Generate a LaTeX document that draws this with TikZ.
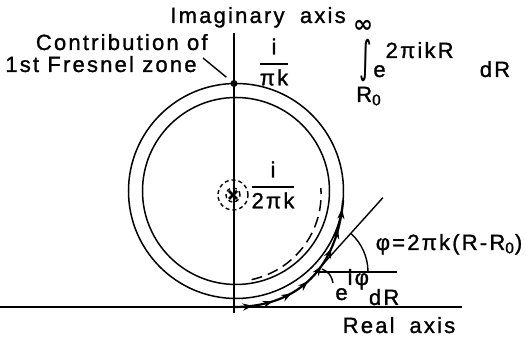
\documentclass[tikz,border=0pt]{standalone}
\usepackage{amsmath,graphicx}
\usepackage{fontspec}
\setmainfont{Liberation Sans}[LetterSpace=10,FakeBold=1.2]
\newfontfamily\djv{DejaVu Sans}
\usetikzlibrary{arrows.meta,decorations.markings}
\tikzset{>=Stealth,every node/.style={font=\fontsize{11}{13}\selectfont,inner sep=0pt},
  axisline/.style={line width=.7pt},loop/.style={line width=.75pt},
  phasor/.style={line width=1.1pt,decoration={markings,
      mark=between positions .11 and .97 step .12 with {\arrow{Stealth[length=5pt,width=3.6pt]}}},postaction={decorate}},
  dashcirc/.style={line width=.7pt,dash pattern=on 2pt off 1.5pt}}
\newcommand{\fracbar}[2]{$\genfrac{}{}{.8pt}{0}{\text{#1}}{\text{#2}}$}

\begin{document}
\begin{tikzpicture}[x=.5pt,y=.5pt]
\useasboundingbox (-234,-33) rectangle (292,307);
% axes
\draw[axisline] (-234,0)--(228,0);\draw[axisline] (0,274)--(0,-6);
\node[anchor=base] (realname) at (165,-26) {Real\hspace{.3em} axis};
\node[anchor=base west] (imagname) at (-64,284) {Imaginary\hspace{.7em}axis};
% two turns of the spiral, then its dashed end
\coordinate (S) at (2,116);
\draw[loop] (S) circle (107.5);\draw[loop] (S) circle (93.5);
\draw[loop,dash pattern=on 5.5pt off 3pt] plot[domain=-80:2,samples=30] ({2+(85-(\x)/16)*cos(\x)},{116+(85-(\x)/16)*sin(\x)});
% first Fresnel zone as a chain of phasors
\coordinate (O) at (0,0);\coordinate (M) at (109.1,106.6);
\draw[phasor] (O) .. controls (66,0) and (103.4,40.9) .. (M);
% limit point
\coordinate (C) at (-1,112);
\draw[dashcirc] (C) circle (15);\draw[dashcirc] (C) circle (7);
\draw[line width=1.4pt] ([shift={(-4,-4)}]C)--([shift={(4,4)}]C) ([shift={(-4,4)}]C)--([shift={(4,-4)}]C);
\node (midfrac) at (39,122) {\fracbar{i}{2πk}};
% top of the first zone
\node[circle,fill,minimum size=3.5pt] (dot) at (0,223.5) {};
\node (topfrac) at (40,245) {\fracbar{i}{πk}};
\node[anchor=base east] (contribA) at (-26,257) {Contribution of};
\node[anchor=base east] (contribB) at (-37,235) {1st Fresnel zone};
\draw[line width=.7pt,shorten >=3pt] ([shift={(6,14)}]contribB.base east)--(dot);
% the integral
\node (infty) at (129,281) {\djv\bfseries\fontsize{12}{14}\selectfont ∞};
\node (intsign) at (131.5,246) {\djv\scalebox{1.1}[2.0]{∫}};
\node[anchor=base west] (kernel) at (139,230) {e\raisebox{9.5pt}{2πikR}};
\node[anchor=base] (dRint) at (261,230) {dR};
\node[anchor=base] (lowlim) at (135,205) {R\textsubscript{0}};
% phase angle at one phasor
\coordinate (tp) at (82,35);
\draw[line width=.7pt] (tp)--++(48:100);\draw[line width=.7pt] (tp)--(163,35);
\draw[line width=.7pt] (tp)++(52,0) arc[start angle=0,end angle=48,radius=52];
\node[anchor=base] (phaselbl) at (215,57) {φ=2πk(R-R\textsubscript{0})};
\node[anchor=base west] (elemlbl) at (101,7) {e\raisebox{7.5pt}{iφ}\raisebox{-2.5pt}{dR}};
\coordinate (elemtip) at (88,38);
\draw[line width=.7pt] ([shift={(-2,17)}]elemlbl.base west) to[bend right=30] (elemtip);
\end{tikzpicture}
\end{document}
